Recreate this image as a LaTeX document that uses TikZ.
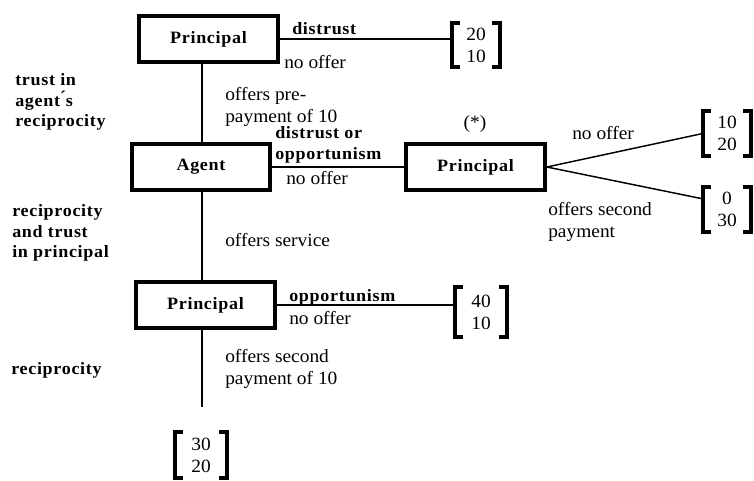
\documentclass[tikz,border=0pt]{standalone}
\usepackage{fontspec}
\setmainfont{Liberation Serif}[FakeStretch=1.04,BoldFeatures={LetterSpace=4}]
\usetikzlibrary{calc}
\newcommand\brackets[1]{%
  \draw[brk] ([xshift=6pt]#1.north west) -- (#1.north west) -- (#1.south west) -- ([xshift=6pt]#1.south west);
  \draw[brk] ([xshift=-6pt]#1.north east) -- (#1.north east) -- (#1.south east) -- ([xshift=-6pt]#1.south east);}
\begin{document}
\begin{tikzpicture}[x=0.75pt,y=-0.75pt,
  every node/.style={font=\fontsize{14}{16}\selectfont, inner sep=0pt},
  bfont/.style={font=\fontsize{13}{15.5}\selectfont\bfseries},
  box/.style={draw, line width=3pt, minimum width=104pt, minimum height=34.5pt, bfont},
  conn/.style={line width=1.1pt},
  lbl/.style={anchor=west, align=left},
  blbl/.style={lbl, bfont},
  payoff/.style={align=center, minimum width=36pt, minimum height=33pt,
    font=\fontsize{14}{16.5}\selectfont},
  brk/.style={line width=3pt, line cap=butt, line join=miter}]
\useasboundingbox (0,0) rectangle (754,480);

% decision boxes
\node[box] (P1) at (208.5,39) {Principal};
\node[box] (A)  at (201,167) {Agent};
\node[box] (P2) at (475.5,167) {Principal};
\node[box] (P3) at (205.5,305) {Principal};
\coordinate (sp) at (202,0);
\coordinate (end) at (202,407);

% payoffs
\node[payoff] (b1) at (476,45) {20\\10};
\node[payoff] (b2) at (727,133.5) {10\\20};
\node[payoff, minimum height=34pt] (b3) at (727,209.5) {0\\30};
\node[payoff, minimum width=39pt, minimum height=37pt] (b4) at (481,312) {40\\10};
\node[payoff, minimum width=39pt, minimum height=34pt] (b5) at (201,455) {30\\20};
\brackets{b1}
\brackets{b2}
\brackets{b3}
\brackets{b4}
\brackets{b5}

% connectors
\draw[conn] (P1.east) -- (P1.east -| b1.west);
\draw[conn] (P1.south -| sp) -- (A.north -| sp);
\draw[conn] (A.east) -- (P2.west);
\draw[conn] (P2.east) -- (b2.west);
\draw[conn] (P2.east) -- ([yshift=8pt]b3.west);
\draw[conn] (A.south -| sp) -- (P3.north -| sp);
\draw[conn] (P3.east) -- (P3.east -| b4.west);
\draw[conn] (P3.south -| sp) -- (end);

% labels
\node[blbl] (l1) at (292,29) {distrust};
\node[lbl]  (l2) at (284,62) {no offer};
\node[blbl] (l3) at (15,102) {trust in\\agent\'{}s\\reciprocity};
\node[lbl]  (l4) at (225,107) {offers pre-\\payment of 10};
\node[blbl] (l5) at (275,145) {distrust or\\opportunism};
\node[lbl]  (l6) at (286,178) {no offer};
\node (l7) at (475,124) {(*)};
\node[lbl]  (l8) at (572,133) {no offer};
\node[lbl]  (l9) at (548,222) {offers second\\payment};
\node[blbl] (l10) at (12,233) {reciprocity\\and trust\\in principal};
\node[lbl]  (l11) at (225,240) {offers service};
\node[blbl] (l12) at (289,297) {opportunism};
\node[lbl]  (l13) at (289,318) {no offer};
\node[blbl] (l14) at (11,370) {reciprocity};
\node[lbl]  (l15) at (225,369) {offers second\\payment of 10};
\end{tikzpicture}
\end{document}
